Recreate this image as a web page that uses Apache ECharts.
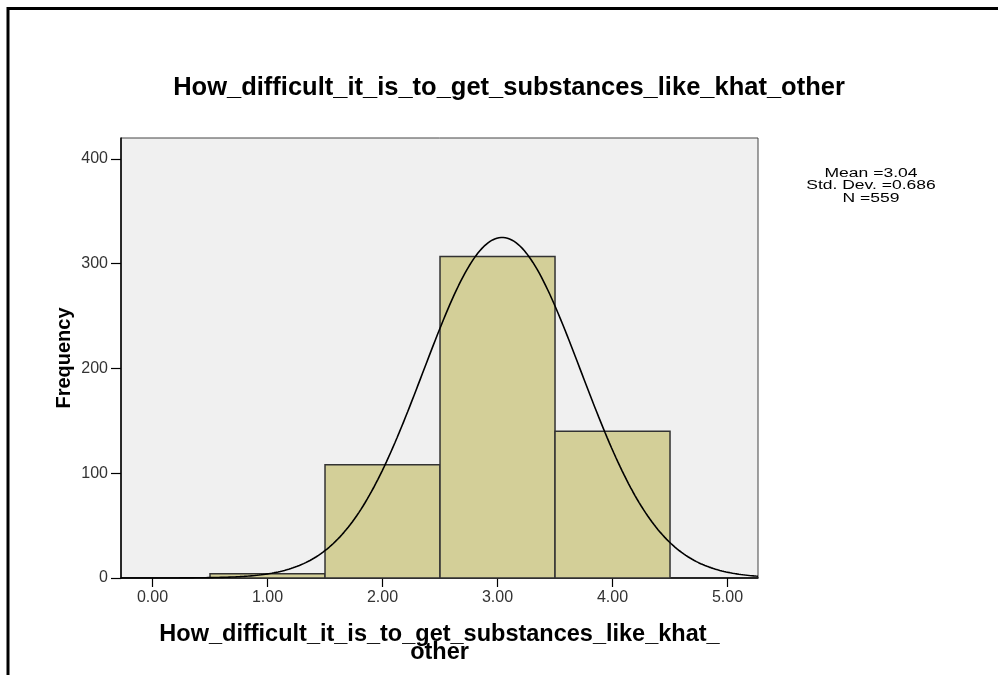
<!DOCTYPE html>
<html>
<head>
<meta charset="utf-8">
<script src="https://cdn.jsdelivr.net/npm/echarts@6/dist/echarts.min.js"></script>
<style>
html,body{margin:0;padding:0;background:#fff;}
#chart{width:998px;height:675px;}
</style>
</head>
<body>
<div id="chart"></div>
<script>
// ---- data ----
const binLower = [0.5, 1.5, 2.5, 3.5];
const binUpper = [1.5, 2.5, 3.5, 4.5];
const frequency = [4, 108, 307, 140];
const xTickValues = [0, 1, 2, 3, 4, 5];
const yTickValues = [0, 100, 200, 300, 400];
const statMean = 3.04;
const statSD = 0.686;
const statN = 559;
const titleText = 'How_difficult_it_is_to_get_substances_like_khat_other';
const xAxisTitle = 'How_difficult_it_is_to_get_substances_like_khat_\nother';
const yAxisTitle = 'Frequency';
const statsLines = ['Mean =3.04', 'Std. Dev. =0.686', 'N =559'];

const xMin = -0.274, xMax = 5.265, yMax = 420;

// histogram bars
const barData = binLower.map((lo, i) => [lo, binUpper[i], frequency[i]]);

// fitted normal curve from the stated mean / sd / N (bin width 1)
const binWidth = 1;
const curve = [];
for (let k = 0; k <= 300; k++) {
  const x = xMin + (xMax - xMin) * k / 300;
  const z = (x - statMean) / statSD;
  const y = statN * binWidth * Math.exp(-0.5 * z * z) / (statSD * Math.sqrt(2 * Math.PI));
  curve.push([x, y]);
}

const FONT = '"Liberation Sans", Arial, sans-serif';
const chart = echarts.init(document.getElementById('chart'), null, {renderer: 'canvas'});
chart.setOption({
  animation: false,
  backgroundColor: '#ffffff',
  grid: {
    left: 121, top: 138, right: 240, bottom: 97,
    show: true, backgroundColor: '#f0f0f0', borderColor: '#444444', borderWidth: 1
  },
  xAxis: {
    type: 'value', min: xMin, max: xMax,
    axisLine: {show: true, onZero: false, lineStyle: {color: '#000', width: 1.5}},
    axisTick: {show: true, inside: false, length: 9, customValues: xTickValues, lineStyle: {color: '#000', width: 1.2}},
    axisLabel: {customValues: xTickValues, formatter: v => v.toFixed(2), margin: 12,
      fontFamily: FONT, fontSize: 16, color: '#333'},
    splitLine: {show: false},
    name: xAxisTitle, nameLocation: 'middle', nameGap: 48, nameMoveOverlap: false,
    nameTextStyle: {fontFamily: FONT, fontSize: 23.5, fontWeight: 'bold', color: '#000', lineHeight: 17.5}
  },
  yAxis: {
    type: 'value', min: 0, max: yMax,
    axisLine: {show: true, onZero: false, lineStyle: {color: '#000', width: 1.5}},
    axisTick: {show: true, inside: false, length: 10, customValues: yTickValues, lineStyle: {color: '#000', width: 1.2}},
    axisLabel: {customValues: yTickValues, margin: 13, fontFamily: FONT, fontSize: 16, color: '#333'},
    splitLine: {show: false},
    name: yAxisTitle, nameLocation: 'middle', nameRotate: 90, nameGap: 47, nameMoveOverlap: false,
    nameTextStyle: {fontFamily: FONT, fontSize: 20, fontWeight: 'bold', color: '#000'}
  },
  title: {
    text: titleText, left: 504, top: 70, textAlign: 'center',
    textStyle: {fontFamily: FONT, fontSize: 25.5, fontWeight: 'bold', color: '#000'}
  },
  graphic: [
    {type: 'line', shape: {x1: 8, y1: 8.5, x2: 998, y2: 8.5}, style: {stroke: '#000', lineWidth: 3}, z: 100},
    {type: 'line', shape: {x1: 8, y1: 7, x2: 8, y2: 675}, style: {stroke: '#000', lineWidth: 3}, z: 100},
    {type: 'text', x: 871, y: 167, scaleX: 1.4, scaleY: 1,
      style: {text: statsLines.join('\n'), align: 'center', verticalAlign: 'top',
        font: '12.5px ' + FONT, fill: '#000', lineHeight: 12.5}, z: 100}
  ],
  series: [
    {
      type: 'custom',
      data: barData,
      encode: {x: [0, 1], y: 2},
      renderItem: function (params, api) {
        const p0 = api.coord([api.value(0), api.value(2)]);
        const p1 = api.coord([api.value(1), 0]);
        return {type: 'rect', shape: {x: p0[0], y: p0[1], width: p1[0] - p0[0], height: p1[1] - p0[1]},
          style: {fill: '#d3cf98', stroke: '#333333', lineWidth: 1.5}};
      },
      z: 2
    },
    {
      type: 'line', data: curve, showSymbol: false, smooth: false,
      lineStyle: {color: '#000', width: 1.6}, z: 3
    }
  ]
});
</script>
</body>
</html>
